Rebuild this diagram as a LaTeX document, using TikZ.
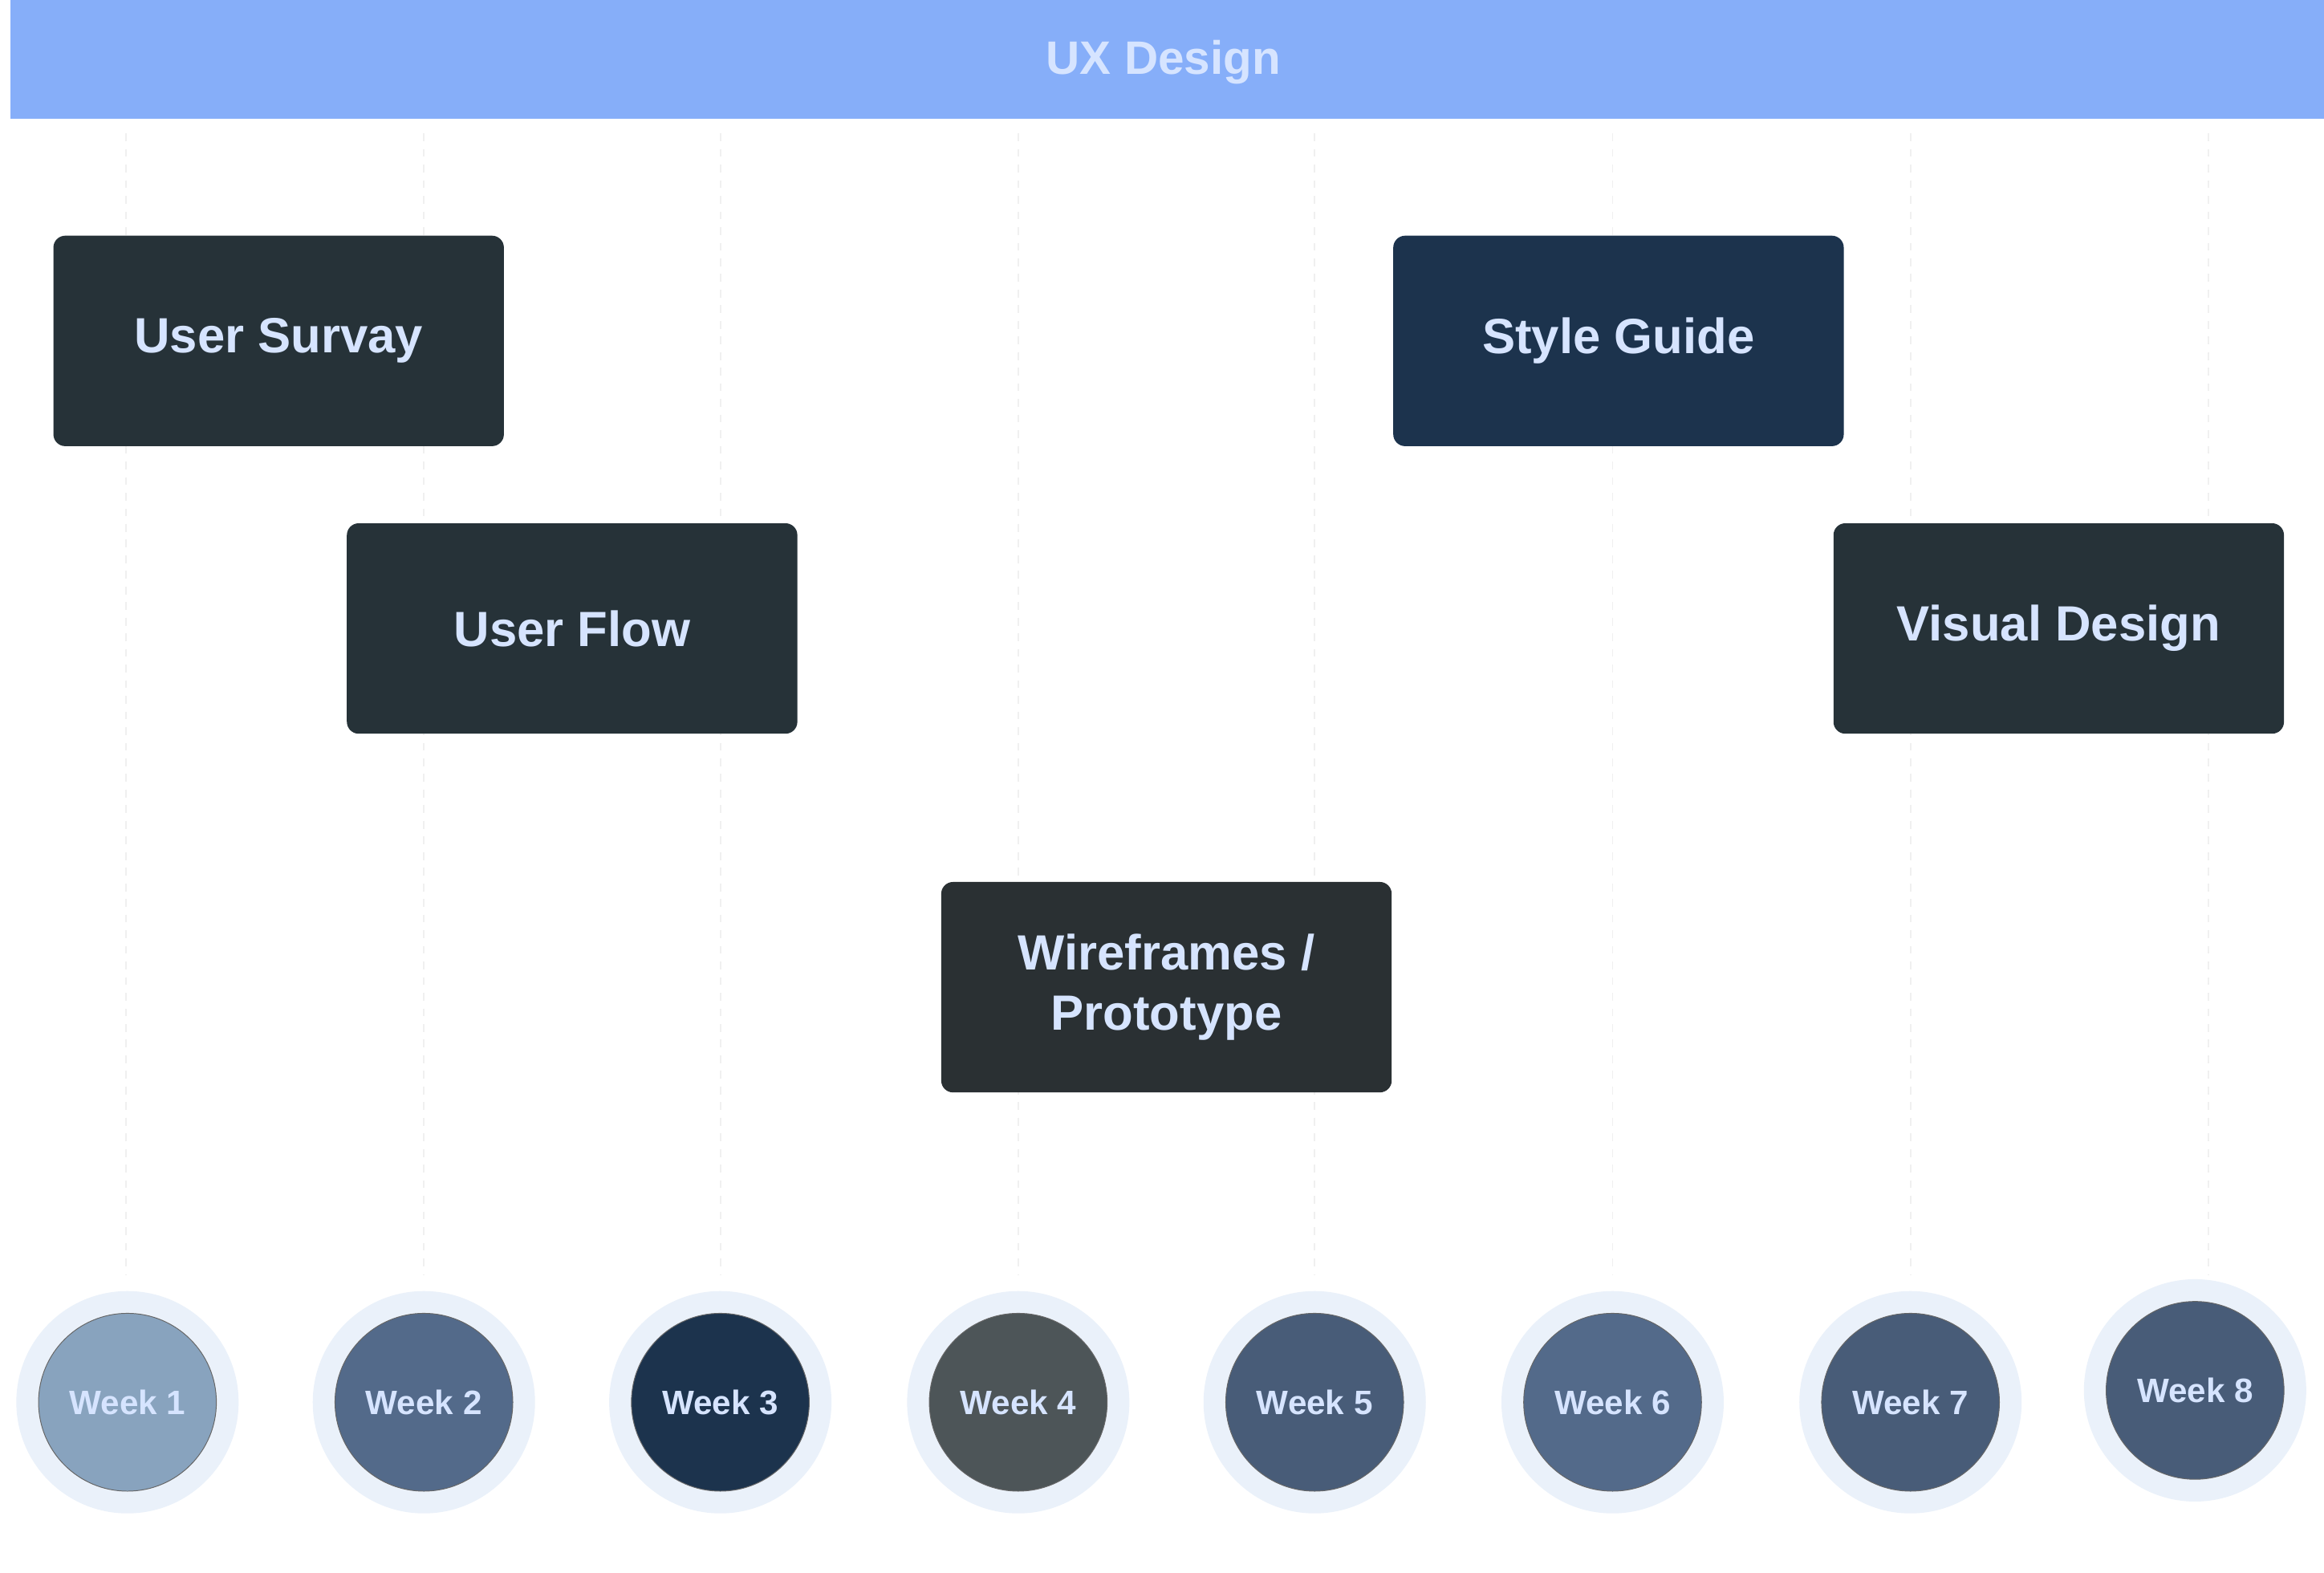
\documentclass[tikz,border=0pt]{standalone}
\usepackage{fontspec}
\setmainfont{Liberation Sans}
\begin{document}
\begin{tikzpicture}[x=0.02cm,y=-0.02cm,
 box/.style={rounded corners=0.16cm,draw=none,minimum width=6.08cm,minimum height=2.84cm,text=txt,font=\bfseries\fontsize{19}{23}\selectfont,align=center},
 wk/.style={circle,minimum size=2.4cm,draw=black!60,line width=0.3pt,text=txt,font=\bfseries\fontsize{13}{15}\selectfont,inner sep=0pt},
 halo/.style={circle,fill=halo,minimum size=3.0cm,draw=none},
 grid/.style={dashed,draw=black!6,line width=0.6pt}]
\definecolor{txt}{HTML}{D6E4FF}
\definecolor{halo}{HTML}{EAF1FA}
\definecolor{hdr}{HTML}{86AEF9}
\definecolor{c1}{HTML}{263238}\definecolor{c2}{HTML}{1C334D}\definecolor{c3}{HTML}{2A3033}
\useasboundingbox (0,0) rectangle (1568,1061);
\fill[white] (0,0) rectangle (1568,1061);
\foreach \x in {85,286,486,687,887,1088,1289,1490} \draw[grid] (\x,90) -- (\x,860);
\fill[hdr] (7,0) rectangle (1568,80);
\node[text=txt,font=\bfseries\fontsize{18}{22}\selectfont] (title) at (785,42) {UX Design};
\node[box,fill=c1] (survey) at (188,230) {User Survay};
\node[box,fill=c2] (style) at (1092,230) {Style Guide};
\node[box,fill=c1] (flow) at (386,424) {User Flow};
\node[box,fill=c1] (visual) at (1389,424) {Visual Design};
\node[box,fill=c3] (wire) at (787,666) {Wireframes /\\Prototype};
\foreach \n/\x/\y/\c in {1/86/946/88A3BE,2/286/946/536A8A,3/486/946/1C334D,4/687/946/4D5558,5/887/946/485C78,6/1088/946/536A8A,7/1289/946/485C78,8/1481/938/485C78}{
 \node[halo] (h\n) at (\x,\y) {};
 \definecolor{wc}{HTML}{\c}
 \node[wk,fill=wc] (w\n) at (\x,\y) {Week \n};
}
\end{tikzpicture}
\end{document}
